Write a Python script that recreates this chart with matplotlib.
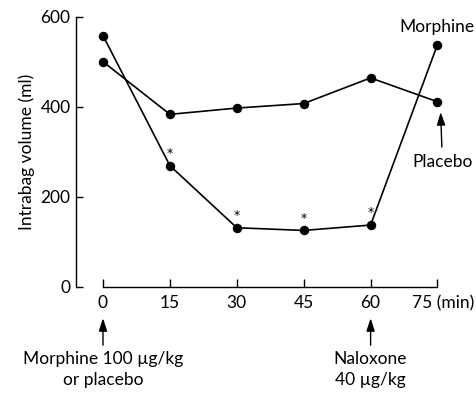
import matplotlib
matplotlib.use("Agg")
import matplotlib.pyplot as plt

plt.rcParams['font.family'] = ['Lato', 'DejaVu Sans']

minutes = [0, 15, 30, 45, 60, 75]
morphine = [558, 269, 131, 125, 137, 538]
placebo = [500, 383, 397, 407, 464, 411]
star_times = [15, 30, 45, 60]
y_ticks = [0, 200, 400, 600]

fig = plt.figure(figsize=(4.76, 3.95), dpi=100)
ax = fig.add_axes([0.1597, 0.2742, 0.9191 - 0.1597, 0.9577 - 0.2742])

fs = 12.5
mk = dict(marker='o', markersize=5.8, color='black', lw=1.2, clip_on=False, zorder=3)
ax.plot(minutes, morphine, **mk)
ax.plot(minutes, placebo, **mk)

# significance stars above the morphine points
for t in star_times:
    v = morphine[minutes.index(t)]
    ax.annotate('*', xy=(t, v), xytext=(0, 4), textcoords='offset points',
                ha='center', va='bottom', fontsize=9, family='DejaVu Sans')

ax.set_xlim(-6.05, 75)
ax.set_ylim(0, 600)
ax.spines['top'].set_visible(False)
ax.spines['right'].set_visible(False)
ax.spines['left'].set_bounds(0, 600)
ax.spines['bottom'].set_bounds(0, 75)
for s in ('left', 'bottom'):
    ax.spines[s].set_linewidth(1.0)

ax.set_yticks(y_ticks)
ax.set_xticks(minutes)
ax.set_xticklabels(['0', '15', '30', '45', '60', ''])
ax.tick_params(axis='y', direction='in', length=5, width=1.0, pad=4, labelsize=fs)
ax.tick_params(axis='x', direction='in', length=6, width=1.0, pad=6, labelsize=fs)
ax.annotate('75 (min)', xy=(75, 0), xytext=(4, -6), textcoords='offset points',
            ha='center', va='top', fontsize=fs, annotation_clip=False)

ax.set_ylabel('Intrabag volume (ml)', fontsize=fs, labelpad=4)

ax.text(74.8, 577, 'Morphine', ha='center', va='center', fontsize=fs)
ax.annotate('Placebo', xy=(75.7, 388), xytext=(76.1, 277), ha='center', va='center',
            fontsize=fs, annotation_clip=False,
            arrowprops=dict(arrowstyle='-|>,head_length=0.55,head_width=0.18',
                            color='black', lw=1.0, mutation_scale=14,
                            shrinkA=3, shrinkB=0))

arrow = dict(arrowstyle='-|>,head_length=0.55,head_width=0.18', color='black',
             lw=1.0, mutation_scale=14, shrinkA=0, shrinkB=0)
for t, txt in [(0, 'Morphine 100 \u00b5g/kg\nor placebo'), (60, 'Naloxone\n40 \u00b5g/kg')]:
    ax.annotate('', xy=(t, -70), xytext=(t, -130), arrowprops=arrow,
                annotation_clip=False)
    ax.text(t, -142, txt, ha='center', va='top', fontsize=fs,
            linespacing=1.45, clip_on=False)

fig.savefig('out.png', dpi=100)
